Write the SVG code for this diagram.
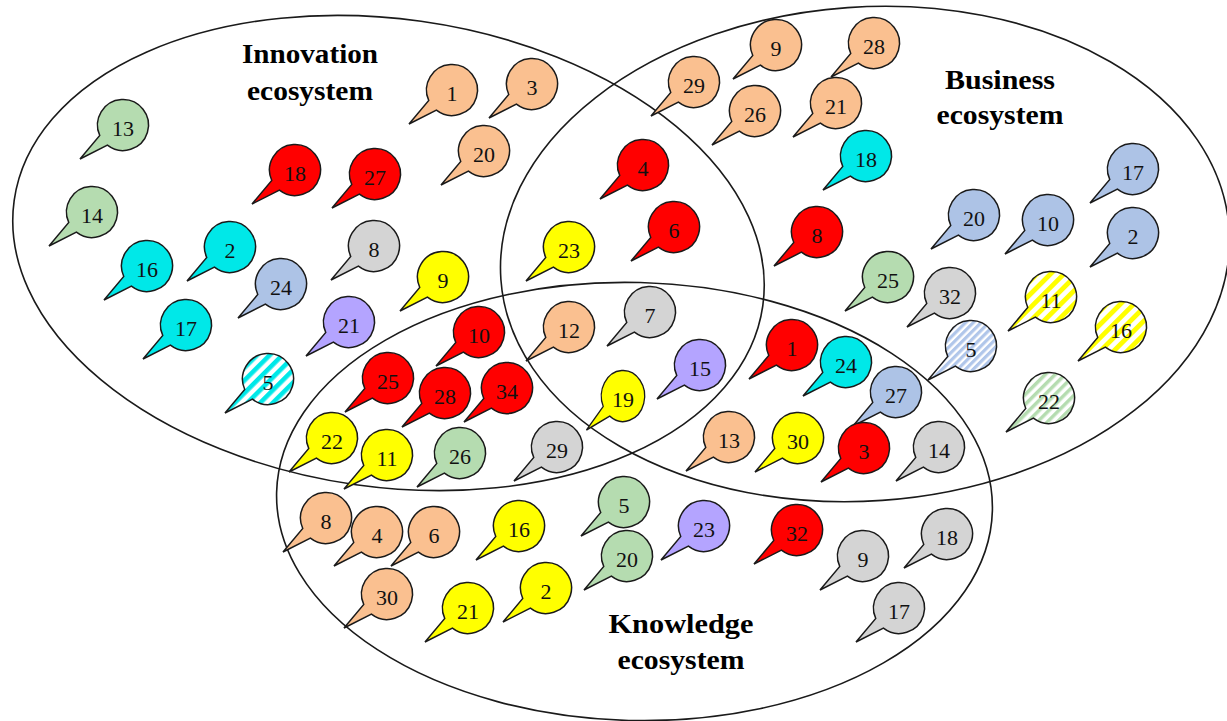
<svg xmlns="http://www.w3.org/2000/svg" width="1227" height="721" viewBox="0 0 1227 721">
<style>
.eco{fill:none;stroke:#1a1a1a;stroke-width:1.6}
.n{font-family:"Liberation Serif",serif;font-size:22px;text-anchor:middle;fill:#111}
.lbl{font-family:"Liberation Serif",serif;font-weight:bold;font-size:28px;text-anchor:middle;fill:#000}
.or{fill:#FAC090}.gr{fill:#B5DCB0}.rd{fill:#FF0000}.cy{fill:#00E8E8}.gy{fill:#D4D4D4}
.bl{fill:#ADC3E6}.pu{fill:#B4A4FF}.ye{fill:#FFFF00}
.scy{fill:url(#stCy)}.sye{fill:url(#stYe)}.sbl{fill:url(#stBl)}.sgr{fill:url(#stGr)}
</style>
<defs>
<path id="bub" d="M-43 34L-23.24 10.49A25.5 25.5 0 1 1 -15.59 20.18Z" stroke="#1a1a1a" stroke-width="1.5"/>
<pattern id="stCy" patternUnits="userSpaceOnUse" width="9" height="9" patternTransform="rotate(45)"><rect width="9" height="9" fill="#fff"/><rect width="4.6" height="9" fill="#00E8E8"/></pattern>
<pattern id="stYe" patternUnits="userSpaceOnUse" width="9.5" height="9.5" patternTransform="rotate(45)"><rect width="9.5" height="9.5" fill="#fff"/><rect width="4.8" height="9.5" fill="#FFFF00"/></pattern>
<pattern id="stBl" patternUnits="userSpaceOnUse" width="5.5" height="5.5" patternTransform="rotate(45)"><rect width="5.5" height="5.5" fill="#fff"/><rect width="3.2" height="5.5" fill="#B0C6EA"/></pattern>
<pattern id="stGr" patternUnits="userSpaceOnUse" width="7" height="7" patternTransform="rotate(45)"><rect width="7" height="7" fill="#fff"/><rect width="3.5" height="7" fill="#B5DCB0"/></pattern>
</defs>
<rect width="1227" height="721" fill="#fff"/>
<g id="ecosystems">
<ellipse id="innovation-ellipse" class="eco" cx="388.5" cy="253" rx="378" ry="234" transform="rotate(8 388.5 253)"/>
<ellipse id="business-ellipse" class="eco" cx="865" cy="254" rx="365" ry="247" transform="rotate(-4 865 254)"/>
<ellipse id="knowledge-ellipse" class="eco" cx="634.5" cy="501.5" rx="358" ry="219" transform="rotate(1.5 634.5 501.5)"/>
</g>
<g id="labels">
<g id="label-innovation"><text class="lbl" x="310" y="63" textLength="136" lengthAdjust="spacingAndGlyphs">Innovation</text><text class="lbl" x="310" y="100" textLength="126" lengthAdjust="spacingAndGlyphs">ecosystem</text></g>
<g id="label-business"><text class="lbl" x="1000" y="89" textLength="110" lengthAdjust="spacingAndGlyphs">Business</text><text class="lbl" x="1000" y="124" textLength="127" lengthAdjust="spacingAndGlyphs">ecosystem</text></g>
<g id="label-knowledge"><text class="lbl" x="681" y="633" textLength="145" lengthAdjust="spacingAndGlyphs">Knowledge</text><text class="lbl" x="681" y="669" textLength="127" lengthAdjust="spacingAndGlyphs">ecosystem</text></g>
</g>
<g id="nodes">
<g id="inn-13" transform="translate(123 125)"><use href="#bub" class="gr"/><text class="n" y="11">13</text></g>
<g id="inn-14" transform="translate(92 212)"><use href="#bub" class="gr"/><text class="n" y="11">14</text></g>
<g id="inn-18" transform="translate(295 170)"><use href="#bub" class="rd"/><text class="n" y="11">18</text></g>
<g id="inn-27" transform="translate(375 174)"><use href="#bub" class="rd"/><text class="n" y="11">27</text></g>
<g id="inn-1" transform="translate(452 90)"><use href="#bub" class="or"/><text class="n" y="11">1</text></g>
<g id="inn-3" transform="translate(532 84)"><use href="#bub" class="or"/><text class="n" y="11">3</text></g>
<g id="inn-20" transform="translate(484 151)"><use href="#bub" class="or"/><text class="n" y="11">20</text></g>
<g id="inn-2" transform="translate(230 247)"><use href="#bub" class="cy"/><text class="n" y="11">2</text></g>
<g id="inn-8" transform="translate(374 246)"><use href="#bub" class="gy"/><text class="n" y="11">8</text></g>
<g id="inn-16" transform="translate(147 266)"><use href="#bub" class="cy"/><text class="n" y="11">16</text></g>
<g id="inn-24" transform="translate(281 284)"><use href="#bub" class="bl"/><text class="n" y="11">24</text></g>
<g id="inn-9" transform="translate(443 277)"><use href="#bub" class="ye"/><text class="n" y="11">9</text></g>
<g id="inn-17" transform="translate(186 325)"><use href="#bub" class="cy"/><text class="n" y="11">17</text></g>
<g id="inn-21" transform="translate(349 322)"><use href="#bub" class="pu"/><text class="n" y="11">21</text></g>
<g id="inn-5" transform="translate(268 379)"><use href="#bub" class="scy"/><text class="n" y="11">5</text></g>

<g id="inn-bus-4" transform="translate(643 165)"><use href="#bub" class="rd"/><text class="n" y="11">4</text></g>
<g id="inn-bus-6" transform="translate(674 227)"><use href="#bub" class="rd"/><text class="n" y="11">6</text></g>
<g id="inn-bus-23" transform="translate(569 247)"><use href="#bub" class="ye"/><text class="n" y="11">23</text></g>

<g id="bus-29" transform="translate(694 82)"><use href="#bub" class="or"/><text class="n" y="11">29</text></g>
<g id="bus-9" transform="translate(776 45)"><use href="#bub" class="or"/><text class="n" y="11">9</text></g>
<g id="bus-26" transform="translate(755 111)"><use href="#bub" class="or"/><text class="n" y="11">26</text></g>
<g id="bus-28" transform="translate(874 43)"><use href="#bub" class="or"/><text class="n" y="11">28</text></g>
<g id="bus-21" transform="translate(836 103)"><use href="#bub" class="or"/><text class="n" y="11">21</text></g>
<g id="bus-18" transform="translate(866 156)"><use href="#bub" class="cy"/><text class="n" y="11">18</text></g>
<g id="bus-8" transform="translate(817 232)"><use href="#bub" class="rd"/><text class="n" y="11">8</text></g>
<g id="bus-17" transform="translate(1133 169)"><use href="#bub" class="bl"/><text class="n" y="11">17</text></g>
<g id="bus-20" transform="translate(974 215)"><use href="#bub" class="bl"/><text class="n" y="11">20</text></g>
<g id="bus-10" transform="translate(1048 220)"><use href="#bub" class="bl"/><text class="n" y="11">10</text></g>
<g id="bus-2" transform="translate(1133 233)"><use href="#bub" class="bl"/><text class="n" y="11">2</text></g>
<g id="bus-25" transform="translate(888 277)"><use href="#bub" class="gr"/><text class="n" y="11">25</text></g>
<g id="bus-32" transform="translate(950 293)"><use href="#bub" class="gy"/><text class="n" y="11">32</text></g>
<g id="bus-11" transform="translate(1051 297)"><use href="#bub" class="sye"/><text class="n" y="11">11</text></g>
<g id="bus-16" transform="translate(1121 327)"><use href="#bub" class="sye"/><text class="n" y="11">16</text></g>
<g id="bus-5" transform="translate(971 346)"><use href="#bub" class="sbl"/><text class="n" y="11">5</text></g>
<g id="bus-22" transform="translate(1049 398)"><use href="#bub" class="sgr"/><text class="n" y="11">22</text></g>

<g id="inn-kno-10" transform="translate(479 332)"><use href="#bub" class="rd"/><text class="n" y="11">10</text></g>
<g id="inn-kno-25" transform="translate(388 378)"><use href="#bub" class="rd"/><text class="n" y="11">25</text></g>
<g id="inn-kno-28" transform="translate(445 393)"><use href="#bub" class="rd"/><text class="n" y="11">28</text></g>
<g id="inn-kno-34" transform="translate(507 388)"><use href="#bub" class="rd"/><text class="n" y="11">34</text></g>
<g id="inn-kno-22" transform="translate(332 438)"><use href="#bub" class="ye"/><text class="n" y="11">22</text></g>
<g id="inn-kno-11" transform="translate(387 455)"><use href="#bub" class="ye"/><text class="n" y="11">11</text></g>
<g id="inn-kno-26" transform="translate(460 453)"><use href="#bub" class="gr"/><text class="n" y="11">26</text></g>
<g id="inn-kno-29" transform="translate(557 447)"><use href="#bub" class="gy"/><text class="n" y="11">29</text></g>

<g id="all-12" transform="translate(569 327)"><use href="#bub" class="or"/><text class="n" y="11">12</text></g>
<g id="all-7" transform="translate(650 312)"><use href="#bub" class="gy"/><text class="n" y="11">7</text></g>
<g id="all-19" transform="translate(623 396)"><use href="#bub" class="ye" transform="scale(0.85 1)"/><text class="n" y="11">19</text></g>
<g id="all-15" transform="translate(700 365)"><use href="#bub" class="pu"/><text class="n" y="11">15</text></g>

<g id="bus-kno-1" transform="translate(792 345)"><use href="#bub" class="rd"/><text class="n" y="11">1</text></g>
<g id="bus-kno-24" transform="translate(846 362)"><use href="#bub" class="cy"/><text class="n" y="11">24</text></g>
<g id="bus-kno-27" transform="translate(896 392)"><use href="#bub" class="bl"/><text class="n" y="11">27</text></g>
<g id="bus-kno-13" transform="translate(729 437)"><use href="#bub" class="or"/><text class="n" y="11">13</text></g>
<g id="bus-kno-30" transform="translate(798 438)"><use href="#bub" class="ye"/><text class="n" y="11">30</text></g>
<g id="bus-kno-3" transform="translate(864 448)"><use href="#bub" class="rd"/><text class="n" y="11">3</text></g>
<g id="bus-kno-14" transform="translate(939 447)"><use href="#bub" class="gy"/><text class="n" y="11">14</text></g>

<g id="kno-8" transform="translate(326 518)"><use href="#bub" class="or"/><text class="n" y="11">8</text></g>
<g id="kno-4" transform="translate(377 532)"><use href="#bub" class="or"/><text class="n" y="11">4</text></g>
<g id="kno-6" transform="translate(434 532)"><use href="#bub" class="or"/><text class="n" y="11">6</text></g>
<g id="kno-30" transform="translate(387 594)"><use href="#bub" class="or"/><text class="n" y="11">30</text></g>
<g id="kno-16" transform="translate(519 526)"><use href="#bub" class="ye"/><text class="n" y="11">16</text></g>
<g id="kno-21" transform="translate(468 608)"><use href="#bub" class="ye"/><text class="n" y="11">21</text></g>
<g id="kno-2" transform="translate(546 588)"><use href="#bub" class="ye"/><text class="n" y="11">2</text></g>
<g id="kno-5" transform="translate(624 502)"><use href="#bub" class="gr"/><text class="n" y="11">5</text></g>
<g id="kno-20" transform="translate(627 556)"><use href="#bub" class="gr"/><text class="n" y="11">20</text></g>
<g id="kno-23" transform="translate(704 526)"><use href="#bub" class="pu"/><text class="n" y="11">23</text></g>
<g id="kno-32" transform="translate(797 530)"><use href="#bub" class="rd"/><text class="n" y="11">32</text></g>
<g id="kno-9" transform="translate(863 556)"><use href="#bub" class="gy"/><text class="n" y="11">9</text></g>
<g id="kno-18" transform="translate(947 534)"><use href="#bub" class="gy"/><text class="n" y="11">18</text></g>
<g id="kno-17" transform="translate(899 608)"><use href="#bub" class="gy"/><text class="n" y="11">17</text></g>
</g>
</svg>
